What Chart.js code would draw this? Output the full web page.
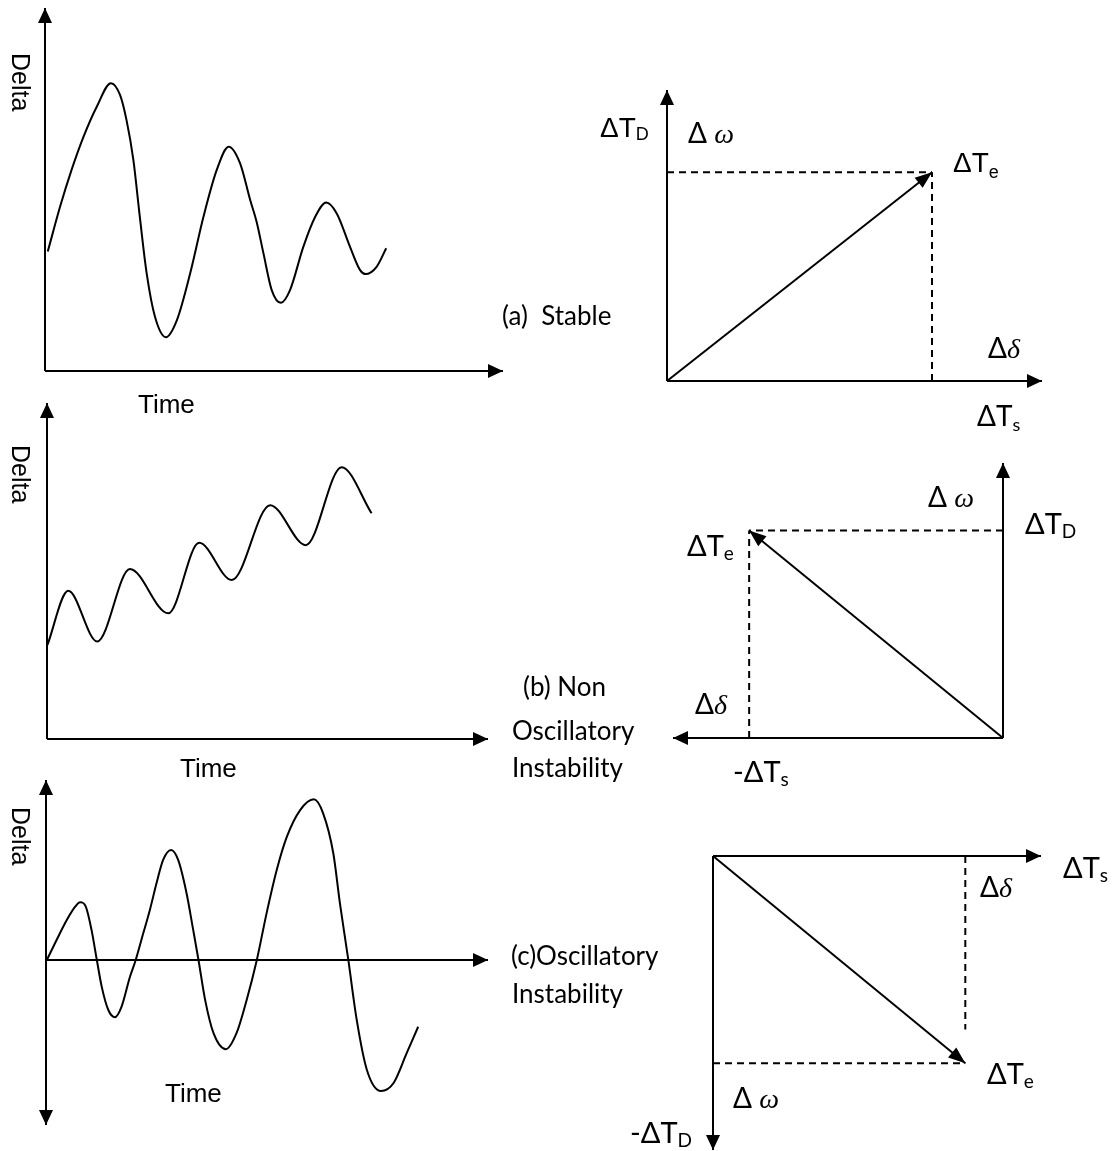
<!DOCTYPE html>
<html><head><meta charset="utf-8">
<script src="https://cdn.jsdelivr.net/npm/chart.js@4/dist/chart.umd.min.js"></script>
<style>
html,body{margin:0;padding:0;background:#fff;}
#wrap{position:relative;width:1119px;height:1151px;overflow:hidden;background:#fff;}
#wrap canvas{position:absolute;left:0;top:0;}
</style></head><body><div id="wrap"></div>
<script>
const W = 1119, H = 1151;

// ---------- time-domain responses (time, rotor angle delta) ----------
const timeA  = [0.06,0.33,0.58,0.84,1.13,1.44,1.64,1.78,1.93,2.07,2.22,2.40,2.64,2.88,3.17,3.46,3.75,4.01,4.26,4.48,4.62,4.77,4.95,5.15,5.35,5.64,5.90,6.14,6.37,6.66,6.88,7.00,7.24,7.45];
const deltaA = [3.29,4.53,5.54,6.45,7.28,7.93,7.60,6.91,5.81,4.25,2.69,1.50,0.93,1.40,2.69,4.25,5.54,6.18,5.72,4.71,4.11,3.24,2.23,1.88,2.23,3.42,4.25,4.64,4.34,3.42,2.78,2.67,2.87,3.38];

const timeB  = [0.01,0.48,1.14,1.88,2.75,3.45,4.19,5.06,5.87,6.68,7.36];
const deltaB = [2.80,4.41,2.90,5.06,3.74,5.84,4.73,6.96,5.77,8.09,6.72];

const timeC  = [0.02,0.24,0.47,0.66,0.77,0.90,1.03,1.15,1.26,1.41,1.56,1.71,1.90,2.03,2.20,2.35,2.50,2.65,2.83,2.99,3.18,3.33,3.45,3.60,3.79,4.07,4.31,4.54,4.77,4.99,5.22,5.45,5.75,6.06,6.27,6.50,6.65,6.84,7.03,7.26,7.58,7.86,8.16,8.42];
const deltaC = [0,1.11,2.22,2.96,3.21,2.96,1.67,0,-1.48,-2.78,-3.18,-2.59,-0.93,0,1.48,2.78,4.26,5.56,6.11,5.56,3.71,1.67,0,-2.22,-4.07,-4.96,-4.07,-2.22,0,2.59,5.0,6.85,8.33,8.93,8.15,5.93,3.15,0,-3.33,-6.11,-7.28,-6.85,-5.18,-3.71];

// ---------- phasor diagrams: components of ΔTe (synchronising ΔTs, damping ΔTD) ----------
const phasorCases = ['a', 'b', 'c'];
const phasorTs    = [1.0, -1.0, 1.0];
const phasorTD    = [0.8,  0.8, -0.8];
const phasorDrop  = [0.8,  0.8, -0.67];   // extent of the dashed projection onto the ΔTs axis

// ---------- layout (page pixels for plot areas, axis ranges) ----------
const timeRangeX = [0, 10];
const layout = {
  tA: {box:[45, 8, 503, 371],    x:timeRangeX, y:[0, 10]},
  tB: {box:[47, 403, 488, 739],  x:timeRangeX, y:[0, 10]},
  tC: {box:[46, 780, 488, 1125], x:timeRangeX, y:[-9.17, 10]},
  pA: {box:[667, 90, 1042, 381], x:[0, 1.415], y:[0, 1.115]},
  pB: {box:[673, 463, 1003, 738], x:[-1.30, 0], y:[0, 1.06]},
  pC: {box:[713, 856, 1041, 1150], x:[0, 1.30], y:[-1.135, 0]}
};

const LS = '"Liberation Sans", Arial, sans-serif';
const LT = 'Lato, "Open Sans", sans-serif';
const SR = '"Liberation Serif", "DejaVu Serif", serif';

function arrowHead(ctx, x1, y1, x2, y2, len, wid) {
  const a = Math.atan2(y2 - y1, x2 - x1);
  ctx.save();
  ctx.translate(x2, y2); ctx.rotate(a);
  ctx.beginPath(); ctx.moveTo(0, 0); ctx.lineTo(-len, wid / 2); ctx.lineTo(-len, -wid / 2); ctx.closePath();
  ctx.fill();
  ctx.restore();
}

function drawLabel(ctx, l) {
  ctx.save();
  ctx.textBaseline = 'alphabetic'; ctx.textAlign = 'left'; ctx.fillStyle = '#000';
  ctx.translate(l.x, l.y);
  if (l.rot) ctx.rotate(Math.PI / 2);
  let cx = 0;
  l.parts.forEach(p => {
    ctx.font = p.f;
    ctx.fillText(p.t, cx, p.dy || 0);
    cx += ctx.measureText(p.t).width + (p.dx || 0);
  });
  ctx.restore();
}

const diagramPlugin = {
  id: 'diagram',
  afterDatasetsDraw(chart, args, opts) {
    const ctx = chart.ctx, xs = chart.scales.x, ys = chart.scales.y;
    const v = (s, k) => k === 'min' ? s.min : (k === 'max' ? s.max : k);
    ctx.save();
    ctx.strokeStyle = '#000'; ctx.fillStyle = '#000'; ctx.lineWidth = 2;
    (opts.axes || []).forEach(a => {
      const x1 = xs.getPixelForValue(v(xs, a.from[0])), y1 = ys.getPixelForValue(v(ys, a.from[1]));
      const x2 = xs.getPixelForValue(v(xs, a.to[0])),   y2 = ys.getPixelForValue(v(ys, a.to[1]));
      ctx.beginPath(); ctx.moveTo(x1, y1); ctx.lineTo(x2, y2); ctx.stroke();
      if (a.end) arrowHead(ctx, x1, y1, x2, y2, 15, 14);
      if (a.start) arrowHead(ctx, x2, y2, x1, y1, 15, 14);
    });
    chart.data.datasets.forEach((ds, i) => {
      if (!ds.arrow) return;
      const pts = chart.getDatasetMeta(i).data;
      const p1 = pts[pts.length - 2], p2 = pts[pts.length - 1];
      arrowHead(ctx, p1.x, p1.y, p2.x, p2.y, 17, 13);
    });
    (opts.labels || []).forEach(l => drawLabel(ctx, l));
    ctx.restore();
  }
};

const wrap = document.getElementById('wrap');
function makeChart(cfg, datasets, diagram) {
  const c = document.createElement('canvas');
  c.width = W; c.height = H; c.style.width = W + 'px'; c.style.height = H + 'px';
  wrap.appendChild(c);
  const b = cfg.box;
  return new Chart(c, {
    type: 'scatter',
    data: {datasets},
    options: {
      responsive: false, animation: false, devicePixelRatio: 1, events: [],
      layout: {padding: {left: b[0], top: b[1], right: W - b[2], bottom: H - b[3]}},
      scales: {
        x: {type: 'linear', display: false, min: cfg.x[0], max: cfg.x[1]},
        y: {type: 'linear', display: false, min: cfg.y[0], max: cfg.y[1]}
      },
      elements: {point: {radius: 0, hoverRadius: 0}},
      plugins: {legend: {display: false}, tooltip: {enabled: false}, diagram}
    },
    plugins: [diagramPlugin]
  });
}

function curve(t, d) {
  return {data: t.map((x, i) => ({x, y: d[i]})), showLine: true, borderColor: '#000', borderWidth: 2,
          pointRadius: 0, fill: false, clip: false, cubicInterpolationMode: 'monotone'};
}
function seg(p, q, dashed, arrow) {
  return {data: [p, q], showLine: true, borderColor: '#000', borderWidth: 2, pointRadius: 0,
          fill: false, clip: false, tension: 0, borderDash: dashed ? [7, 5] : [], arrow: !!arrow};
}
function phasorSets(i) {
  const s = phasorTs[i], d = phasorTD[i];
  return [
    seg({x: 0, y: d}, {x: s, y: d}, true),
    seg({x: s, y: 0}, {x: s, y: phasorDrop[i]}, true),
    seg({x: 0, y: 0}, {x: s, y: d}, false, true)
  ];
}

function txt(t, x, y, f) { return {x, y, parts: [{t, f}]}; }
function dT(pre, sub, x, y, size, fam, subDy) {
  return {x, y, parts: [{t: pre + 'ΔT', f: size + 'px ' + fam}, {t: sub, f: Math.round(size * 0.64) + 'px ' + fam, dy: subDy}]};
}
function greek(g, x, y, size, gap) {
  return {x, y, parts: [{t: 'Δ' + (gap ? ' ' : ''), f: size + 'px ' + LT}, {t: g, f: 'italic ' + size + 'px ' + SR}]};
}
function deltaLbl(x, y) { return {x, y, rot: true, parts: [{t: 'Delta', f: '25px ' + LS}]}; }

// ---------- time-domain panels ----------
makeChart(layout.tA, [curve(timeA, deltaA)], {
  axes: [{from: [0, 0], to: ['max', 0], end: true}, {from: [0, 0], to: [0, 'max'], end: true}],
  labels: [txt('Time', 138, 413, '26px ' + LS), deltaLbl(12, 53)]
});
makeChart(layout.tB, [curve(timeB, deltaB)], {
  axes: [{from: [0, 0], to: ['max', 0], end: true}, {from: [0, 0], to: [0, 'max'], end: true}],
  labels: [txt('Time', 180, 777, '26px ' + LS), deltaLbl(12, 445)]
});
makeChart(layout.tC, [curve(timeC, deltaC)], {
  axes: [{from: [0, 0], to: ['max', 0], end: true}, {from: [0, 'min'], to: [0, 'max'], end: true, start: true}],
  labels: [txt('Time', 165, 1102, '26px ' + LS), deltaLbl(12, 807)]
});

// ---------- phasor panels ----------
makeChart(layout.pA, phasorSets(0), {
  axes: [{from: [0, 0], to: ['max', 0], end: true}, {from: [0, 0], to: [0, 'max'], end: true}],
  labels: [
    dT('', 'D', 600, 137, 28, LS, 3),
    greek('ω', 688, 143, 28, true),
    dT('', 'e', 953, 172, 28, LS, 6),
    greek('δ', 988, 358, 28, false),
    dT('', 's', 977, 426, 28, LT, 5),
    txt('(a)  Stable', 502, 325, '26px ' + LT)
  ]
});
makeChart(layout.pB, phasorSets(1), {
  axes: [{from: [0, 0], to: ['min', 0], end: true}, {from: [0, 0], to: [0, 'max'], end: true}],
  labels: [
    greek('ω', 928, 507, 28, true),
    dT('', 'D', 1025, 534, 29, LT, 4),
    dT('', 'e', 687, 556, 29, LT, 4),
    greek('δ', 695, 714, 28, false),
    dT('-', 's', 733, 782, 29, LT, 4),
    txt('(b) Non', 523, 696, '26px ' + LT),
    txt('Oscillatory', 512, 740, '26px ' + LT),
    txt('Instability', 512, 777, '26px ' + LT)
  ]
});
makeChart(layout.pC, phasorSets(2), {
  axes: [{from: [0, 0], to: ['max', 0], end: true}, {from: [0, 0], to: [0, 'min'], end: true}],
  labels: [
    dT('', 's', 1063, 878, 29, LT, 4),
    greek('δ', 980, 897, 28, false),
    dT('', 'e', 987, 1084, 29, LT, 4),
    greek('ω', 733, 1108, 28, true),
    dT('-', 'D', 630, 1143, 29, LT, 4),
    txt('(c)Oscillatory', 511, 965, '26px ' + LT),
    txt('Instability', 512, 1003, '26px ' + LT)
  ]
});
</script>
</body></html>
